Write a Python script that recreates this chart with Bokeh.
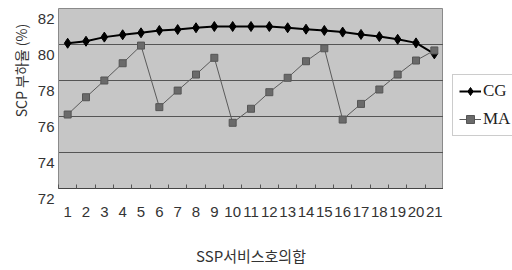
import math
from bokeh.plotting import figure
from bokeh.layouts import row
from bokeh.models import FixedTicker, Legend, LegendItem, Range1d, Grid
from bokeh.core.properties import value
from bokeh.embed import file_html
from bokeh.resources import INLINE

x_vals = list(range(1, 22))
x_labels = [str(i) for i in x_vals]
cg = [80.07, 80.18, 80.41, 80.54, 80.65, 80.78, 80.83, 80.93, 81.0, 81.0,
      81.0, 81.0, 80.93, 80.85, 80.78, 80.69, 80.56, 80.44, 80.29, 80.09, 79.48]
ma = [76.11, 77.07, 78.0, 78.96, 79.94, 76.52, 77.44, 78.33, 79.26, 75.65,
      76.43, 77.35, 78.15, 79.07, 79.79, 75.83, 76.7, 77.5, 78.33, 79.11, 79.67]
y_ticks = [72, 74, 76, 78, 80, 82]
y_labels = [str(t) for t in y_ticks]
series_names = ["CG", "MA"]
y_title = "SCP 부하율 (%)"
x_title = "SSP서비스호의합"

H = 270

# ---- main plot ----
p = figure(width=385, height=H, output_backend="svg", toolbar_location=None,
           x_range=Range1d(0.5, 21.5), y_range=Range1d(72, 82),
           y_axis_location=None,
           min_border_left=0, min_border_top=8, min_border_bottom=82,
           min_border_right=0)
p.background_fill_color = "#c6c6c6"
p.border_fill_color = "white"
p.outline_line_color = "#8a8a8a"
p.outline_line_width = 1

p.xaxis.ticker = FixedTicker(ticks=x_vals, minor_ticks=[v - 0.5 for v in x_vals] + [21.5])
p.xaxis.major_label_overrides = {v: s for v, s in zip(x_vals, x_labels)}
p.xaxis.major_tick_in = 0
p.xaxis.major_tick_out = 0
p.xaxis.minor_tick_in = 4
p.xaxis.minor_tick_out = 0
p.xaxis.minor_tick_line_color = "#555555"
p.xaxis.axis_line_color = "#444444"
p.xaxis.major_label_text_font = "Liberation Sans"
p.xaxis.major_label_text_font_size = "15px"
p.xaxis.major_label_text_color = "#333333"
p.xaxis.major_label_standoff = 18
p.xaxis.axis_label = x_title
p.xaxis.axis_label_text_font = "Noto Sans CJK KR"
p.xaxis.axis_label_text_font_size = "15px"
p.xaxis.axis_label_text_font_style = "normal"
p.xaxis.axis_label_text_color = "#333333"
p.xaxis.axis_label_standoff = 25
p.xgrid.visible = False

p.add_layout(Grid(dimension=1, ticker=FixedTicker(ticks=y_ticks[1:-1]),
                  grid_line_color="#555555", grid_line_width=1))

CG_STYLE = dict(line_color="black", line_width=2)
CG_MARK = dict(marker="diamond", size=10, fill_color="black", line_color="black")
MA_STYLE = dict(line_color="#5a5a5a", line_width=1)
MA_MARK = dict(marker="square", size=7, fill_color="#6a6a6a", line_color="#555555")

p.line(x_vals, cg, **CG_STYLE)
p.scatter(x_vals, cg, **CG_MARK)
p.line(x_vals, ma, **MA_STYLE)
p.scatter(x_vals, ma, **MA_MARK)

# ---- left panel: y tick labels and y title ----
pl = figure(width=58, height=H, output_backend="svg", toolbar_location=None,
            x_range=Range1d(0, 58), y_range=Range1d(68, 83),
            x_axis_location=None, y_axis_location=None,
            min_border_left=0, min_border_right=0, min_border_top=0, min_border_bottom=0)
pl.frame_align = False
pl.outline_line_color = None
pl.grid.visible = False
pl.text(x=[54] * len(y_ticks), y=y_ticks, text=y_labels,
        text_align="right", text_baseline="middle",
        text_font=value("Liberation Sans"), text_font_size="15px", text_color="#333333")
pl.text(x=[20], y=[79.11], text=[y_title], angle=math.pi / 2,
        text_align="center", text_baseline="middle",
        text_font=value("Noto Sans CJK KR"), text_font_size="14px", text_color="#333333")

# ---- right panel: legend (swatch renderers sit outside the visible range) ----
pr = figure(width=69, height=H, output_backend="svg", toolbar_location=None,
            x_range=Range1d(0, 1), y_range=Range1d(0, 1),
            x_axis_location=None, y_axis_location=None,
            min_border_left=0, min_border_right=0, min_border_top=0, min_border_bottom=0)
pr.frame_align = False
pr.outline_line_color = None
pr.grid.visible = False
off_x = [5, 6]
off_y = [5, 6]
d_l_cg = pr.line(off_x, off_y, **CG_STYLE)
d_s_cg = pr.scatter(off_x, off_y, **CG_MARK)
d_l_ma = pr.line(off_x, off_y, **MA_STYLE)
d_s_ma = pr.scatter(off_x, off_y, **MA_MARK)

legend = Legend(items=[LegendItem(label=series_names[0], renderers=[d_l_cg, d_s_cg]),
                       LegendItem(label=series_names[1], renderers=[d_l_ma, d_s_ma])],
                location=(9, 134))
legend.label_text_font = "Liberation Serif"
legend.label_text_font_size = "17px"
legend.label_text_color = "#222222"
legend.glyph_width = 22
legend.glyph_height = 20
legend.label_height = 20
legend.spacing = 8
legend.padding = 6
legend.margin = 0
legend.label_standoff = 2
legend.border_line_color = "#999999"
legend.background_fill_color = "white"
pr.add_layout(legend)

layout = row(pl, p, pr)
open("out.html", "w").write(file_html(layout, INLINE))
